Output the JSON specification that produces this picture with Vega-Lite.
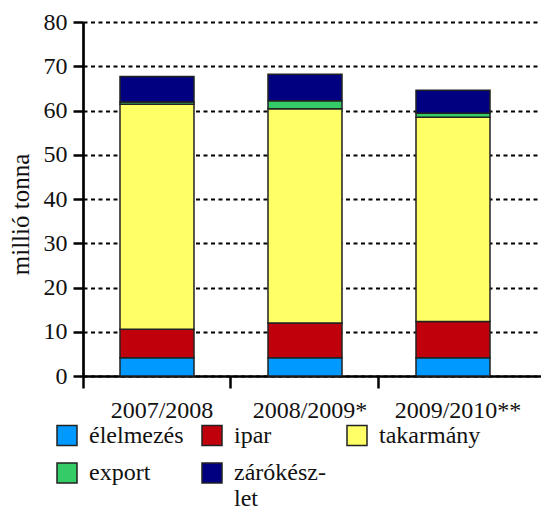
{
  "$schema": "https://vega.github.io/schema/vega-lite/v6.json",
  "autosize": {"type": "none"},
  "padding": {"left": 83, "top": 22, "right": 0, "bottom": 132},
  "width": 458,
  "height": 354,
  "config": {
    "font": "Liberation Serif, serif",
    "axis": {"labelFont": "Liberation Serif, serif", "titleFont": "Liberation Serif, serif"},
    "legend": {"labelFont": "Liberation Serif, serif"},
    "text": {"font": "Liberation Serif, serif"},
    "view": {"stroke": null}
  },
  "data": {
    "values": [
      {"ev": "2007/2008", "kat": "élelmezés", "o": 1, "v": 4.1},
      {"ev": "2007/2008", "kat": "ipar", "o": 2, "v": 6.45},
      {"ev": "2007/2008", "kat": "takarmány", "o": 3, "v": 50.85},
      {"ev": "2007/2008", "kat": "export", "o": 4, "v": 0.5},
      {"ev": "2007/2008", "kat": "zárókészlet", "o": 5, "v": 5.8},
      {"ev": "2008/2009*", "kat": "élelmezés", "o": 1, "v": 4.1},
      {"ev": "2008/2009*", "kat": "ipar", "o": 2, "v": 7.9},
      {"ev": "2008/2009*", "kat": "takarmány", "o": 3, "v": 48.4},
      {"ev": "2008/2009*", "kat": "export", "o": 4, "v": 1.8},
      {"ev": "2008/2009*", "kat": "zárókészlet", "o": 5, "v": 6.0},
      {"ev": "2009/2010**", "kat": "élelmezés", "o": 1, "v": 4.1},
      {"ev": "2009/2010**", "kat": "ipar", "o": 2, "v": 8.2},
      {"ev": "2009/2010**", "kat": "takarmány", "o": 3, "v": 46.2},
      {"ev": "2009/2010**", "kat": "export", "o": 4, "v": 0.9},
      {"ev": "2009/2010**", "kat": "zárókészlet", "o": 5, "v": 5.2}
    ]
  },
  "mark": {"type": "bar", "width": {"band": 0.5}, "stroke": "#222", "strokeWidth": 1.5},
  "encoding": {
    "x": {
      "field": "ev",
      "type": "nominal",
      "sort": null,
      "scale": {"paddingInner": 0, "paddingOuter": 0.0473, "align": 0},
      "axis": {
        "title": null,
        "labelAngle": 0,
        "labelFont": "Liberation Serif, serif",
        "labelFontSize": 24,
        "labelColor": "#111",
        "labelBaseline": "alphabetic",
        "labelPadding": 29,
        "bandPosition": 0,
        "labelOffset": 5,
        "tickSize": 12,
        "tickWidth": 2.5,
        "tickColor": "#000",
        "domainColor": "#000",
        "domainWidth": 2.5,
        "grid": false
      }
    },
    "y": {
      "field": "v",
      "type": "quantitative",
      "stack": "zero",
      "scale": {"domain": [0, 80], "nice": false},
      "axis": {
        "title": "millió tonna",
        "titleFont": "Liberation Serif, serif",
        "titleFontSize": 25,
        "titleFontWeight": "normal",
        "titleColor": "#111",
        "titleAngle": -90,
        "titleX": -55,
        "titleY": 192,
        "titleAlign": "center",
        "titleBaseline": "alphabetic",
        "values": [0, 10, 20, 30, 40, 50, 60, 70, 80],
        "labelFont": "Liberation Serif, serif",
        "labelFontSize": 24,
        "labelColor": "#111",
        "labelPadding": 6,
        "tickSize": 10,
        "tickWidth": 2.5,
        "tickColor": "#000",
        "domainColor": "#000",
        "domainWidth": 2.7,
        "grid": true,
        "gridColor": "#000",
        "gridWidth": 2.2,
        "gridDash": [4, 3.5]
      }
    },
    "color": {
      "field": "kat",
      "type": "nominal",
      "scale": {
        "domain": ["élelmezés", "ipar", "takarmány", "export", "zárókészlet"],
        "range": ["#0099FF", "#C0000B", "#FFFF66", "#33CC66", "#000080"]
      },
      "legend": {
        "title": null,
        "orient": "none",
        "legendX": -28,
        "legendY": 389,
        "direction": "horizontal",
        "columns": 3,
        "gridAlign": "all",
        "columnPadding": 8,
        "rowPadding": -14,
        "symbolType": "square",
        "symbolSize": 400,
        "symbolStrokeColor": "#222",
        "symbolStrokeWidth": 1.5,
        "symbolOpacity": 1,
        "labelFont": "Liberation Serif, serif",
        "labelFontSize": 24,
        "labelColor": "#111",
        "labelOffset": 10,
        "labelLimit": 200,
        "labelExpr": "datum.label == 'zárókészlet' ? ['zárókész-', 'let'] : datum.label"
      }
    },
    "order": {"field": "o", "type": "quantitative"}
  }
}
